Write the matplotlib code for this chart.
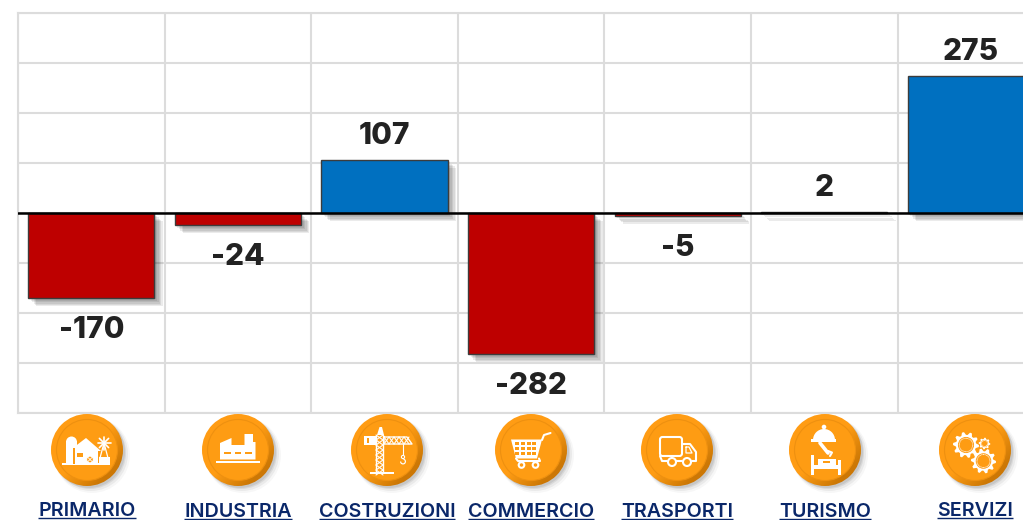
import numpy as np
import matplotlib
matplotlib.use('Agg')
import matplotlib.pyplot as plt
import matplotlib.patheffects as pe
from matplotlib.patches import Circle, Polygon, Rectangle, FancyBboxPatch, Wedge

W, H = 1023, 520

categories = ['PRIMARIO', 'INDUSTRIA', 'COSTRUZIONI', 'COMMERCIO', 'TRASPORTI', 'TURISMO', 'SERVIZI']
values = [-170, -24, 107, -282, -5, 2, 275]
yticks = [-400, -300, -200, -100, 0, 100, 200, 300, 400]

RED = '#be0000'
BLUE = '#0070c0'
GRID = '#dcdcdc'
NAVY = '#0a2769'
ORANGE = '#fe9c13'

plt.rcParams['font.family'] = ['Inter', 'DejaVu Sans']

fig = plt.figure(figsize=(W / 100, H / 100), dpi=100)

# plot area runs past the right edge of the picture, like the original crop
cat_w = 146.6
ax = fig.add_axes([18 / W, 1 - 413 / H, 7 * cat_w / W, 400 / H])
ax.set_xlim(-0.5, 6.5)
ax.set_ylim(-400, 400)
ax.set_xticks(np.arange(-0.5, 7, 1))
ax.set_yticks(yticks)
ax.grid(True, color=GRID, linewidth=1.5)
ax.tick_params(length=0, labelleft=False, labelbottom=False)
ax.set_axisbelow(True)
for s in ax.spines.values():
    s.set_color(GRID)
    s.set_linewidth(1.5)

x = np.arange(len(values))
colors = [RED if v < 0 else BLUE for v in values]
bars = ax.bar(x, values, width=0.862, color=colors, edgecolor='#3c3c3c', linewidth=1.0, zorder=3)

# soft shadow: a stack of faint offset copies
shadow = [pe.SimplePatchShadow(offset=(o, -o), shadow_rgbFace='k', alpha=0.08)
          for o in (6.0, 5.0, 4.0, 3.0, 2.0, 1.0)]
for b in bars:
    b.set_path_effects(shadow + [pe.Normal()])

ax.axhline(0, color='black', linewidth=1.8, zorder=4)

# value labels, sit above or below the bar
for xi, v in zip(x, values):
    off = 24 if v > 0 else -32
    ax.annotate(str(v), (xi, v), xytext=(0, off * 0.72), textcoords='offset points',
                ha='center', va='center', fontsize=21.5, fontweight='heavy', color='#222222', zorder=5)

# overlay in pixel coordinates for the round icons and the labels
ov = fig.add_axes([0, 0, 1, 1])
ov.set_xlim(0, W)
ov.set_ylim(H, 0)
ov.axis('off')
ov.patch.set_alpha(0)


def badge(cx, cy):
    for r, o, a in [(38, 5, 0.03), (37, 4, 0.05), (36, 3, 0.07), (36, 2, 0.08)]:
        ov.add_patch(Circle((cx + o, cy + o), r, fc='k', ec='none', alpha=a))
    # outer ring, darker toward the lower right
    grad = np.linspace(0, 1, 80)
    gx, gy = np.meshgrid(grad, grad)
    t = np.clip((gx + gy - 1.0) * 1.6, 0, 1)
    rgb = np.zeros((80, 80, 3))
    for i, (c0, c1) in enumerate(zip((1.0, 0.615, 0.08), (0.80, 0.47, 0.02))):
        rgb[..., i] = c0 + (c1 - c0) * t
    im = ov.imshow(rgb, extent=(cx - 36, cx + 36, cy + 36, cy - 36), zorder=2, aspect='auto')
    im.set_clip_path(Circle((cx, cy), 36, transform=ov.transData))
    ov.add_patch(Circle((cx, cy), 30.5, fc=ORANGE, ec='#ee9010', lw=0.8, zorder=3))


def rect(cx, cy, x0, y0, x1, y1, c='white', z=4):
    ov.add_patch(Rectangle((cx + x0, cy + y0), x1 - x0, y1 - y0, fc=c, ec='none', zorder=z))


def poly(cx, cy, pts, c='white', z=4):
    ov.add_patch(Polygon([(cx + a, cy + b) for a, b in pts], closed=True, fc=c, ec='none', zorder=z))


def line(cx, cy, pts, c='white', lw=1.3, z=4):
    ov.plot([cx + p[0] for p in pts], [cy + p[1] for p in pts], color=c, lw=lw, zorder=z,
            solid_capstyle='round', solid_joinstyle='round')


def ring(cx, cy, a, b, r, lw=1.3, fc=ORANGE, z=4):
    ov.add_patch(Circle((cx + a, cy + b), r, fc=fc, ec='white', lw=lw, zorder=z))


def gear(cx, cy, a, b, r, teeth):
    ang = np.linspace(0, 2 * np.pi, teeth * 4, endpoint=False)
    rad = np.tile([r, r, r * 0.78, r * 0.78], teeth)
    poly(cx, cy, list(zip(a + rad * np.cos(ang), b + rad * np.sin(ang))))
    ov.add_patch(Circle((cx + a, cy + b), r * 0.62, fc=ORANGE, ec='none', zorder=4))
    ov.add_patch(Circle((cx + a, cy + b), r * 0.52, fc='none', ec='white', lw=0.6, ls=(0, (1, 0.6)), zorder=4))


def icon_primario(cx, cy):
    rect(cx, cy, -25, 13, 23, 15)
    rect(cx, cy, -21, -9, -10, 14)
    ov.add_patch(Wedge((cx - 15.5, cy - 8), 5.5, 180, 360, fc='white', ec='none', zorder=4))
    rect(cx, cy, -14, -2, -12.5, 14, ORANGE, 5)
    poly(cx, cy, [(-18, 1), (-1, -12), (14, 1), (11, 1), (11, 14), (-14, 14), (-14, 1)])
    rect(cx, cy, -10, 3, -4, 7, ORANGE, 5)
    ring(cx, cy, 3, 9.5, 3.4, lw=0.8, fc=ORANGE, z=5)
    line(cx, cy, [(0.8, 7.3), (5.2, 11.7)], lw=0.6, z=6)
    line(cx, cy, [(5.2, 7.3), (0.8, 11.7)], lw=0.6, z=6)
    for ang in np.arange(0, 2 * np.pi, np.pi / 4):
        line(cx, cy, [(17, -7), (17 + 6.5 * np.cos(ang), -7 + 6.5 * np.sin(ang))], lw=1.2)
    line(cx, cy, [(17, -7), (13, 8)], lw=0.9)
    line(cx, cy, [(17, -7), (21, 8)], lw=0.9)
    rect(cx, cy, 12, 7, 23, 14)


def icon_industria(cx, cy):
    rect(cx, cy, -22, 10.5, 22, 13)
    poly(cx, cy, [(-18, 9.5), (-18, -7), (-6.5, -12), (-6.5, -5), (6.5, -5), (6.5, -16),
                  (15, -16), (15, -8), (17.5, -8), (17.5, 9.5)])
    for a in (-14, -3.5, 7):
        rect(cx, cy, a, 1.5, a + 6.5, 4, ORANGE, 5)


def icon_costruzioni(cx, cy):
    rect(cx, cy, -17, 22, 7, 24)
    # tower and jib lattice
    line(cx, cy, [(-11, -15), (-11, 22)], lw=1.0)
    line(cx, cy, [(-4, -15), (-4, 22)], lw=1.0)
    for b in range(-15, 22, 5):
        line(cx, cy, [(-11, b), (-4, b + 5)], lw=0.8)
        line(cx, cy, [(-4, b), (-11, b + 5)], lw=0.8)
    poly(cx, cy, [(-10, -15), (-7.5, -23), (-5, -23), (-3, -15)])
    line(cx, cy, [(-3, -13), (20, -13), (25, -6), (-3, -6), (-3, -13)], lw=1.0)
    for a in range(-3, 20, 5):
        line(cx, cy, [(a, -13), (a + 5, -6)], lw=0.8)
        line(cx, cy, [(a + 5, -13), (a, -6)], lw=0.8)
    rect(cx, cy, -23, -14, -11, -5)
    rect(cx, cy, -20, -12, -18, -7, ORANGE, 5)
    line(cx, cy, [(16, -6), (16, 5)], lw=0.8)
    ring(cx, cy, 16, 7, 1.6, lw=0.8)
    ov.add_patch(Wedge((cx + 16, cy + 11.5), 3, 280, 180, width=1.2, fc='white', ec='none', zorder=4))


def icon_commercio(cx, cy):
    poly(cx, cy, [(-20, -10.5), (11, -10.5), (6, 8.5), (-15, 8.5)])
    for b in (-6.5, -1.5, 3.5):
        for a in (-12, -6, 0, 5):
            rect(cx, cy, a - 4, b - 2, a + 0.0, b + 1.3, ORANGE, 5)
    line(cx, cy, [(11, -10), (13, -15), (19.5, -17)], lw=1.5)
    line(cx, cy, [(-15, 8.5), (-13, 11), (9, 11), (8, 8.5)], lw=1.5)
    ring(cx, cy, -9.5, 15, 2.8, lw=1.5)
    ring(cx, cy, 4.5, 15, 2.8, lw=1.5)


def icon_trasporti(cx, cy):
    ov.add_patch(FancyBboxPatch((cx - 17, cy - 13), 22, 19, boxstyle='round,pad=0,rounding_size=2.5',
                                fc='none', ec='white', lw=1.5, zorder=4))
    line(cx, cy, [(5, -6), (13, -6), (19, 2), (19, 11), (15, 11)], lw=1.5)
    line(cx, cy, [(5, 11), (-1, 11)], lw=1.5)
    line(cx, cy, [(-17, 6), (-15, 11), (-10, 11)], lw=1.5)
    line(cx, cy, [(9, -3), (9, 3), (15, 3), (12, -3), (9, -3)], lw=0.9)
    ring(cx, cy, -5, 12, 4, lw=1.5)
    ring(cx, cy, 10, 12, 4, lw=1.5)


def icon_turismo(cx, cy):
    ov.add_patch(Wedge((cx - 1, cy - 10), 11, 180, 360, fc='white', ec='none', zorder=4))
    ov.add_patch(Circle((cx - 1, cy - 23), 2.3, fc='white', ec='none', zorder=4))
    rect(cx, cy, -14, -11, 11, -8.5)
    line(cx, cy, [(-5, -7), (3, 3)], lw=2.6)
    line(cx, cy, [(3, 1), (7, 2.5), (5, 6)], lw=1.5)
    rect(cx, cy, -14, 5, -11.5, 25)
    rect(cx, cy, 13, 10, 15.5, 25)
    rect(cx, cy, -11.5, 15, 13, 19)
    rect(cx, cy, -7, 9, 11, 15)
    rect(cx, cy, -2, 10.5, 5, 12.5, ORANGE, 5)


def icon_servizi(cx, cy):
    gear(cx, cy, -9, -5, 13, 10)
    gear(cx, cy, 9.5, -6.5, 5.8, 8)
    gear(cx, cy, 8.5, 11, 12.5, 10)


icons = [icon_primario, icon_industria, icon_costruzioni, icon_commercio,
         icon_trasporti, icon_turismo, icon_servizi]
badge_x = [87, 238, 387, 531, 677, 825, 975]
label_y = [511, 512, 512, 512, 512, 512, 511]

fig.canvas.draw()
rend = fig.canvas.get_renderer()
inv = ov.transData.inverted()
for cat, fn, bx, ly in zip(categories, icons, badge_x, label_y):
    badge(bx, 450)
    fn(bx, 450)
    t = ov.text(bx, ly, cat, ha='center', va='center', fontsize=14.2, fontweight='semibold', color=NAVY)
    bb = t.get_window_extent(rend)
    x0 = inv.transform((bb.x0, 0))[0]
    x1 = inv.transform((bb.x1, 0))[0]
    ov.plot([x0, x1], [ly + 7, ly + 7], color=NAVY, lw=1.0, solid_capstyle='butt')

ov.set_xlim(0, W)
ov.set_ylim(H, 0)

fig.savefig('out.png', dpi=100)
